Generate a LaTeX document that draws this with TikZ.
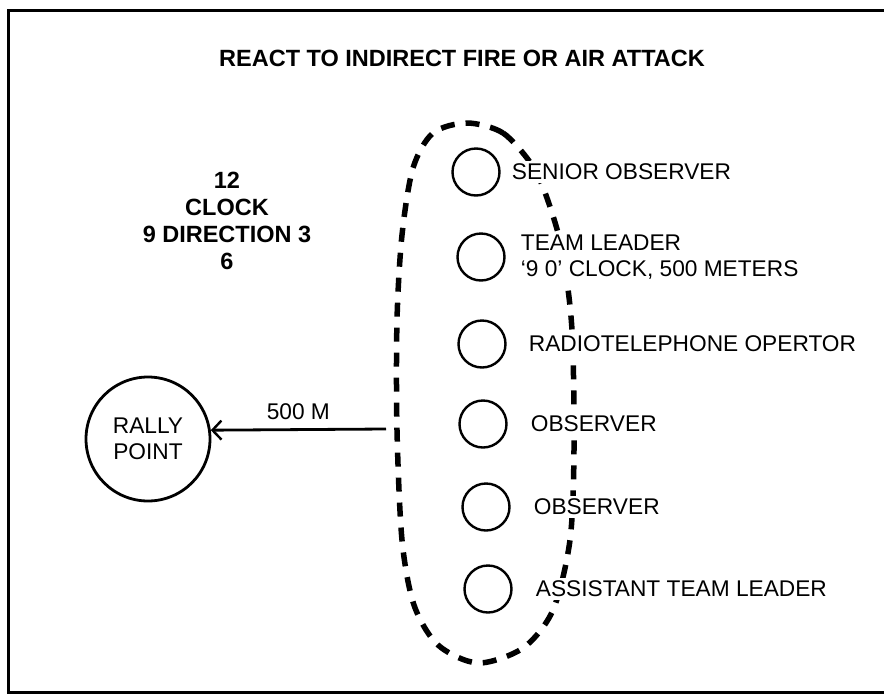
\documentclass[tikz,border=0pt]{standalone}
\usepackage{fontspec}
\setmainfont{Liberation Sans}
\usetikzlibrary{arrows.meta}
\newcommand{\lbl}{\fontsize{22.7}{26}\selectfont}
\newcommand{\hd}{\fontsize{23.5}{27}\selectfont\bfseries}
\tikzset{
  frame/.style={draw=black,line width=3pt},
  member/.style={circle,draw=black,line width=2.4pt,minimum size=47pt,inner sep=0pt}, % team member
  rallyp/.style={circle,draw=black,line width=2.8pt,minimum size=124pt,inner sep=0pt,align=center,font=\lbl},
  perim/.style={line width=5.5pt,dash pattern=on 14pt off 11pt},   % team perimeter
  mlabel/.style={anchor=west,fill=white,inner xsep=1pt,inner ysep=3pt,align=left,font=\lbl},
  head/.style={inner sep=0pt,align=center,font=\hd},
  move/.style={-{Straight Barb[length=9pt,width=19pt,line width=2.4pt]},line width=2.8pt},
}

\begin{document}
\begin{tikzpicture}[x=1pt,y=-1pt]
  \useasboundingbox (0,0) rectangle (884,694);
  \draw[frame] (884,10) -- (8,10) -- (8,692) -- (884,692);
  \node[head] (title) at (462,58) {REACT TO INDIRECT FIRE OR AIR ATTACK};
  \node[head] (clock) at (227,221) {12\\CLOCK\\9 DIRECTION 3\\6};
  % team in file
  \draw[perim] plot[smooth cycle] coordinates {(467,123) (503,133) (532,165) (547,198)
    (562,250) (572,330) (574,450) (570,540) (553,610) (523,648) (478,663) (438,645)
    (414,605) (402,540) (397,430) (397,320) (402,235) (413,168) (433,133)};
  \foreach \n/\x/\y/\g/\t in {so/476/172/10/SENIOR OBSERVER,
      tl/481/257/14/{TEAM LEADER\\`9 0' CLOCK, 500 METERS},
      rto/482/344/21/RADIOTELEPHONE OPERTOR,
      obsa/483/424/22/OBSERVER,
      obsb/486/507/22/OBSERVER,
      atl/488/589/22/ASSISTANT TEAM LEADER} {
    \node[member] (\n) at (\x,\y) {};
    \node[mlabel] (\n-t) at ([xshift=\g pt]\n.east) {\t};
  }
  \node[rallyp] (rally) at (148,439) {RALLY\\POINT};
  \coordinate (out) at (386,429);
  \draw[move] (out) -- (rally.8) node[midway,above=8pt,font=\lbl,inner sep=0pt] (dist) {500 M};
\end{tikzpicture}
\end{document}
